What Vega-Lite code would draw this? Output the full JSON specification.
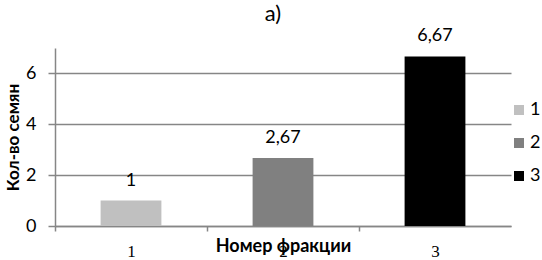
{
  "$schema": "https://vega.github.io/schema/vega-lite/v6.json",
  "width": 456,
  "height": 178,
  "autosize": {"type": "none"},
  "padding": {"left": 55, "top": 48, "right": 31, "bottom": 34},
  "background": "white",
  "title": {"text": "а)", "font": "Lato", "fontSize": 22, "fontWeight": "normal", "color": "black", "anchor": "middle", "dx": -10, "offset": 1},
  "data": {"values": [
    {"f": "1", "v": 1, "label": "1"},
    {"f": "2", "v": 2.67, "label": "2,67"},
    {"f": "3", "v": 6.67, "label": "6,67"}
  ]},
  "config": {"view": {"stroke": null}},
  "encoding": {
    "x": {"field": "f", "type": "nominal", "scale": {"paddingInner": 0.6, "paddingOuter": 0.3},
      "axis": {"labelAngle": 0, "labelFont": "Liberation Serif", "labelFontSize": 17, "labelColor": "black",
        "tickSize": 5, "tickColor": "#868686", "domainColor": "#868686", "domainWidth": 1.5, "tickWidth": 1.5,
        "tickOffset": -76, "labelOffset": 76, "labelPadding": 12,
        "title": "Номер фракции", "titleFont": "Lato", "titleFontWeight": "bold", "titleFontSize": 18, "titleColor": "black", "titlePadding": -22}},
    "y": {"field": "v", "type": "quantitative", "scale": {"domain": [0, 7]},
      "axis": {"values": [0, 2, 4, 6], "grid": true, "gridColor": "#868686", "gridWidth": 1.5,
        "domainColor": "#868686", "domainWidth": 1.5, "tickColor": "#868686", "tickWidth": 1.5, "tickSize": 7,
        "labelFont": "Lato", "labelFontSize": 18, "labelColor": "black", "labelPadding": 12,
        "title": "Кол-во семян", "titleFont": "Lato", "titleFontWeight": "bold", "titleFontSize": 17, "titleColor": "black", "titlePadding": 3}}
  },
  "layer": [
    {"mark": {"type": "bar"},
     "encoding": {
       "color": {"field": "f", "type": "nominal", "scale": {"range": ["#c0c0c0", "#808080", "#000000"]},
         "legend": {"orient": "none", "legendX": 455, "legendY": 53, "title": null, "symbolType": "square", "symbolSize": 100,
           "symbolStrokeWidth": 0, "labelFont": "Lato", "labelFontSize": 18, "labelColor": "black", "rowPadding": 15, "labelOffset": 2}}
     }},
    {"mark": {"type": "text", "baseline": "bottom", "dy": -11, "font": "Lato", "fontSize": 18, "color": "black"},
     "encoding": {"text": {"field": "label"}}}
  ]
}
